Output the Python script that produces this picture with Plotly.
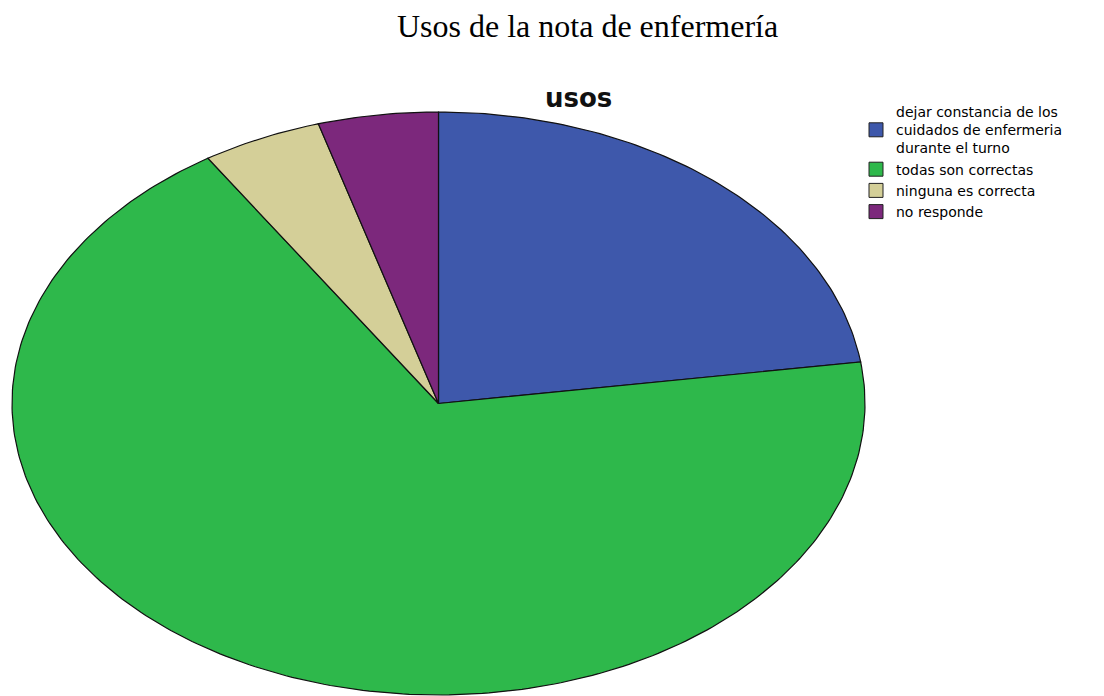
import numpy as np
import plotly.graph_objects as go

# ---- data ----
categories = [
    "dejar constancia de los<br>cuidados de enfermeria<br>durante el turno",
    "todas son correctas",
    "ninguna es correcta",
    "no responde",
]
counts = [5, 15, 1, 1]
colors = ["#3E58AB", "#2EB84B", "#D4CF98", "#7C287C"]
chart_title = "Usos de la nota de enfermería"
inner_title = "usos"

W, H = 1104, 696
OFF = 8  # page body margin offset
# ellipse geometry in pixels (layout only)
cx, cy, rx, ry = 438.5 - OFF, 403.5 - OFF, 426.5, 291.5

fig = go.Figure()

total = float(sum(counts))
start = 0.0
for cat, v, col in zip(categories, counts, colors):
    end = start + v / total * 2 * np.pi
    th = np.linspace(start, end, max(3, int(400 * v / total) + 3))
    xs = np.concatenate([[0.0], np.sin(th), [0.0]])
    ys = np.concatenate([[0.0], np.cos(th), [0.0]])
    fig.add_trace(go.Scatter(
        x=xs, y=ys, mode="lines", fill="toself", fillcolor=col,
        line=dict(color="#111111", width=1.2), showlegend=False,
        hoverinfo="text", text=f"{cat.replace('<br>', ' ')}: {v}",
        legendgroup=cat,
    ))
    start = end

for cat, col in zip(categories, colors):
    fig.add_trace(go.Scatter(
        x=[None], y=[None], mode="markers", name=cat, legendgroup=cat,
        marker=dict(symbol="square", size=14, color=col,
                    line=dict(color="#222222", width=1)),
    ))

x0, x1 = cx - 430, cx + 430
xr = 430 / rx
ytop_px = cy - 295
fig.update_layout(
    width=W, height=H,
    margin=dict(l=0, r=0, t=0, b=0),
    paper_bgcolor="white", plot_bgcolor="white",
    xaxis=dict(domain=[x0 / W, x1 / W], range=[-xr, xr], visible=False, fixedrange=True),
    yaxis=dict(domain=[0, 1 - ytop_px / H],
               range=[-(H - cy) / ry, (cy - ytop_px) / ry],
               visible=False, fixedrange=True),
    showlegend=True,
    legend=dict(x=(856 - OFF) / W, y=1 - 88 / H, xanchor="left", yanchor="top",
                font=dict(family="DejaVu Sans", size=14, color="black"),
                bgcolor="rgba(0,0,0,0)", tracegroupgap=0, valign="middle",
                itemclick=False, itemdoubleclick=False),
    annotations=[
        dict(text=chart_title, x=(587 - OFF) / W, y=1 - (26 - OFF) / H, xref="paper", yref="paper",
             xanchor="center", yanchor="middle", showarrow=False,
             font=dict(family="Liberation Serif", size=32, color="black")),
        dict(text=f"<b>{inner_title}</b>", x=(578 - OFF) / W, y=1 - (98 - OFF) / H,
             xref="paper", yref="paper",
             xanchor="center", yanchor="middle", showarrow=False,
             font=dict(family="DejaVu Sans", size=26, color="#111111")),
    ],
)

fig.write_html("out.html")
